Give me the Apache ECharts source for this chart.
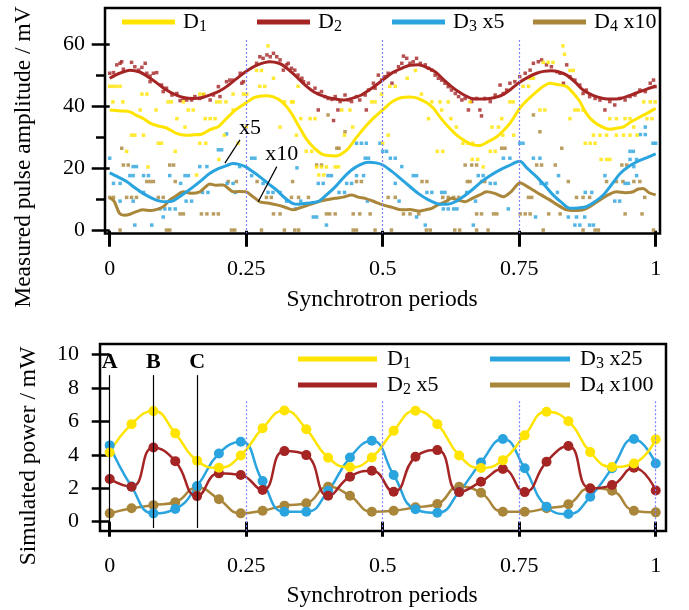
<!DOCTYPE html>
<html><head><meta charset="utf-8">
<script src="https://cdn.jsdelivr.net/npm/echarts@6/dist/echarts.min.js"></script>
<style>html,body{margin:0;padding:0;background:#fff}#c{width:689px;height:610px}</style>
</head><body><div id="c"></div>
<script>
// ---------- tick labels ----------
const periodTicks = [0, 0.25, 0.5, 0.75, 1];
const ampTicks = [0, 20, 40, 60];
const ampMinorTicks = [10, 30, 50];
const powTicks = [0, 2, 4, 6, 8, 10];

// ---------- simulated (bottom) ----------
const simT = [0,0.04,0.08,0.12,0.16,0.2,0.24,0.28,0.32,0.36,0.4,0.44,0.48,0.52,0.56,0.6,0.64,0.68,0.72,0.76,0.8,0.84,0.88,0.92,0.96,1];
const simD1 = [4.14,5.83,6.61,5.28,3.64,3.22,3.96,5.59,6.65,5.53,3.82,3.25,3.84,5.43,6.63,5.83,3.96,3.21,3.68,5.16,6.57,6.01,4.16,3.27,3.48,4.92];
const simD2x5 = [2.55,2.09,4.44,3.62,1.53,2.89,2.79,1.89,4.22,3.98,1.55,2.69,3.05,1.79,3.88,4.28,1.77,2.39,3.15,1.77,3.58,4.52,1.99,2.19,3.22,1.87];
const simD3x25 = [4.56,2.1,0.5,0.76,2.13,4.08,4.78,2.43,0.6,0.6,1.85,3.84,4.84,2.79,0.74,0.54,1.79,3.54,4.94,3.19,0.9,0.46,1.49,3.2,4.94,3.48];
const simD4x100 = [0.5,0.8,0.99,1.16,2.05,1.34,0.5,0.66,0.96,1.1,2.09,1.55,0.6,0.66,0.86,1.06,2.09,1.73,0.6,0.6,0.8,1.04,2.0,1.85,0.66,0.56];

// ---------- measured (top) smoothed curves ----------
const measD1 = [[0,38.8],[0.02,38.5],[0.037,38.2],[0.05,37.0],[0.061,36.1],[0.075,34.5],[0.086,33.8],[0.104,33.0],[0.122,31.3],[0.14,30.7],[0.153,30.8],[0.168,31.0],[0.183,32.4],[0.2,33.6],[0.214,36.1],[0.232,39.0],[0.249,41.0],[0.265,42.8],[0.285,43.4],[0.3,43.0],[0.315,41.5],[0.33,38.5],[0.345,34.0],[0.36,29.5],[0.375,26.5],[0.39,24.5],[0.413,24.0],[0.434,25.9],[0.45,29.5],[0.468,33.4],[0.485,36.5],[0.5,38.8],[0.518,41.5],[0.535,42.8],[0.55,43.0],[0.565,42.5],[0.59,39.9],[0.605,36.5],[0.62,33.4],[0.635,30.8],[0.651,28.8],[0.665,27.6],[0.678,27.4],[0.695,28.8],[0.709,30.2],[0.72,32.0],[0.733,34.5],[0.751,39.3],[0.765,42.0],[0.782,44.7],[0.795,46.5],[0.806,47.4],[0.82,47.0],[0.837,46.3],[0.85,44.0],[0.861,41.5],[0.87,38.5],[0.88,36.1],[0.895,34.0],[0.916,32.6],[0.93,33.0],[0.941,33.4],[0.955,35.0],[0.971,36.5],[0.985,37.8],[1.0,39.3]];
const measD2 = [[0,49.0],[0.018,50.6],[0.037,51.6],[0.055,51.0],[0.074,49.0],[0.09,47.0],[0.104,45.2],[0.12,43.7],[0.135,42.8],[0.153,42.5],[0.17,42.8],[0.183,43.6],[0.2,44.8],[0.214,46.3],[0.232,48.8],[0.249,51.1],[0.27,53.2],[0.293,54.3],[0.31,53.8],[0.321,52.7],[0.339,50.0],[0.358,46.8],[0.375,44.5],[0.394,43.1],[0.413,42.3],[0.428,42.0],[0.445,42.6],[0.461,43.6],[0.48,45.8],[0.5,48.4],[0.518,50.8],[0.535,52.2],[0.55,53.2],[0.565,53.3],[0.58,52.5],[0.596,51.1],[0.61,48.8],[0.626,46.3],[0.645,44.0],[0.663,42.5],[0.68,42.3],[0.696,42.5],[0.71,43.0],[0.721,43.8],[0.735,45.5],[0.75,47.6],[0.765,49.2],[0.782,50.6],[0.795,51.2],[0.809,51.4],[0.823,51.0],[0.837,50.0],[0.852,47.8],[0.867,45.2],[0.885,43.5],[0.904,42.5],[0.92,42.3],[0.935,42.5],[0.953,43.5],[0.971,44.7],[0.985,45.6],[1.0,46.5]];
const measD3x5 = [[0,18.6],[0.015,17.3],[0.031,15.8],[0.046,13.8],[0.061,12.0],[0.077,10.5],[0.092,9.5],[0.104,9.3],[0.116,9.6],[0.135,11.8],[0.153,14.1],[0.168,16.2],[0.183,18.4],[0.2,20.0],[0.215,21.0],[0.226,21.6],[0.237,21.3],[0.249,20.5],[0.262,19.0],[0.275,17.3],[0.29,15.2],[0.306,13.0],[0.321,10.5],[0.336,8.7],[0.346,8.5],[0.36,8.8],[0.382,9.4],[0.397,11.5],[0.413,14.1],[0.428,17.0],[0.443,19.5],[0.46,21.3],[0.474,22.0],[0.488,21.8],[0.5,21.1],[0.515,19.3],[0.529,17.3],[0.547,14.6],[0.565,12.0],[0.583,10.0],[0.602,8.6],[0.618,8.5],[0.633,9.3],[0.648,11.0],[0.663,13.0],[0.68,15.6],[0.695,17.5],[0.709,19.0],[0.73,20.8],[0.751,22.3],[0.765,20.0],[0.782,17.3],[0.797,14.5],[0.812,11.5],[0.828,9.0],[0.843,7.2],[0.858,7.3],[0.873,7.7],[0.89,9.5],[0.904,11.5],[0.92,15.0],[0.935,18.4],[0.952,20.8],[0.971,22.6],[0.985,23.6],[1.0,24.7]];
const measD4x10 = [[0,10.6],[0.008,9.5],[0.018,5.6],[0.027,5.0],[0.037,5.3],[0.05,6.2],[0.061,6.7],[0.075,6.5],[0.092,7.2],[0.1,8.0],[0.11,9.9],[0.12,11.0],[0.135,12.5],[0.15,12.0],[0.165,12.5],[0.175,14.0],[0.183,15.0],[0.195,14.6],[0.208,14.7],[0.218,13.5],[0.226,12.5],[0.237,12.6],[0.249,12.5],[0.262,11.0],[0.275,9.3],[0.29,8.9],[0.306,8.3],[0.32,7.6],[0.336,6.7],[0.346,7.2],[0.36,8.0],[0.382,9.3],[0.4,10.0],[0.413,10.4],[0.428,10.8],[0.443,11.5],[0.455,10.8],[0.468,10.4],[0.485,9.3],[0.5,8.3],[0.517,7.5],[0.535,6.7],[0.55,6.8],[0.565,6.3],[0.578,6.7],[0.59,7.2],[0.6,8.2],[0.608,8.8],[0.618,9.6],[0.626,10.4],[0.638,9.8],[0.651,9.3],[0.665,10.5],[0.678,11.5],[0.69,12.5],[0.705,12.0],[0.721,10.9],[0.735,12.5],[0.745,14.5],[0.751,15.4],[0.762,14.5],[0.776,13.0],[0.79,11.5],[0.806,9.9],[0.82,8.3],[0.837,6.7],[0.852,6.5],[0.867,6.7],[0.88,7.8],[0.898,9.9],[0.913,11.5],[0.928,12.5],[0.944,12.2],[0.959,12.5],[0.968,13.4],[0.977,13.6],[0.988,12.2],[1.0,11.5]];

// ---------- measured (top) raw samples ----------
const ptsD1 = [[0,46.4],[0.006,46.4],[0.012,46.4],[0.019,46.4],[0.006,41.4],[0.024,41.4],[0.059,43.9],[0.068,43.9],[0.056,38.8],[0.085,38.8],[0.04,30.7],[0.046,30.7],[0.062,30.7],[0.031,25.5],[0.089,28.1],[0.095,28.1],[0.107,41.4],[0.113,41.4],[0.135,41.4],[0.123,36.0],[0.138,33.3],[0.144,38.8],[0.153,38.8],[0.165,43.9],[0.172,43.9],[0.165,28.1],[0.176,28.1],[0.159,17.9],[0.175,36.0],[0.184,36.0],[0.193,36.0],[0.196,41.4],[0.202,41.4],[0.213,41.4],[0.226,43.9],[0.226,38.8],[0.245,43.9],[0.251,43.9],[0.269,51.5],[0.278,51.5],[0.275,46.4],[0.284,46.4],[0.29,59.4],[0.3,49.0],[0.312,33.3],[0.32,41.4],[0.333,41.4],[0.21,30.7],[0.12,25.5],[0.235,28.1],[0.25,33.3],[0.07,20.5],[0.2,22.9],
 [0.336,41.4],[0.345,46.4],[0.35,36.0],[0.367,36.0],[0.376,36.0],[0.342,30.7],[0.36,25.5],[0.37,25.5],[0.379,20.5],[0.388,20.5],[0.397,20.5],[0.413,20.5],[0.419,20.5],[0.383,17.9],[0.392,17.9],[0.425,38.8],[0.44,38.8],[0.43,30.7],[0.445,33.3],[0.48,41.4],[0.486,41.4],[0.498,43.9],[0.513,46.4],[0.523,46.4],[0.5,28.1],[0.51,30.7],[0.545,49.0],[0.56,51.5],[0.571,43.9],[0.584,36.0],[0.59,41.4],[0.605,41.4],[0.62,41.4],[0.608,38.8],[0.625,36.0],[0.635,33.3],[0.66,41.4],[0.647,28.1],[0.656,28.1],[0.665,28.1],[0.6,25.5],[0.61,25.5],[0.664,22.9],
 [0.83,59.4],[0.833,56.7],[0.794,54.1],[0.803,54.1],[0.812,54.1],[0.77,49.0],[0.776,49.0],[0.757,46.4],[0.767,46.4],[0.843,51.5],[0.849,51.5],[0.733,41.4],[0.739,41.4],[0.788,38.8],[0.797,38.8],[0.852,38.8],[0.858,38.8],[0.867,38.8],[0.916,36.0],[0.928,36.0],[0.944,36.0],[0.953,36.0],[0.978,41.4],[0.99,41.4],[0.999,41.4],[0.984,36.0],[0.993,36.0],[0.843,36.0],[0.7,33.3],[0.712,33.3],[0.718,36.0],[0.886,30.7],[0.898,30.7],[0.91,30.7],[0.928,30.7],[0.941,30.7],[0.953,30.7],[0.966,30.7],[0.871,28.1],[0.88,28.1],[0.889,28.1],[0.697,25.5],[0.706,25.5],[0.674,22.9],[0.684,20.5],[0.9,22.9],[0.91,22.9],[0.916,22.9],[0.72,30.7],[0.74,30.7],[0.96,33.3]];
const ptsD2 = [[0,50.6],[0.007,50.8],[0.013,53.3],[0.019,53.8],[0.022,54.3],[0.025,51.9],[0.04,54.1],[0.046,52.7],[0.053,51.6],[0.059,52.5],[0.065,53.8],[0.068,50.6],[0.074,49.7],[0.08,50.6],[0.086,50.8],[0.074,47.9],[0.095,46.8],[0.098,44.7],[0.104,45.8],[0.114,43.6],[0.123,44.1],[0.129,41.8],[0.135,42.5],[0.141,42.0],[0.15,42.0],[0.156,43.1],[0.165,42.5],[0.172,43.6],[0.184,42.0],[0.19,43.6],[0.199,46.3],[0.202,43.1],[0.214,47.9],[0.22,48.4],[0.226,48.4],[0.239,50.6],[0.242,47.4],[0.245,47.9],[0.269,53.8],[0.275,55.9],[0.281,55.4],[0.288,56.5],[0.294,55.9],[0.3,57.0],[0.306,55.9],[0.312,54.9],[0.318,51.6],[0.324,53.3],[0.333,52.2],
 [0.327,53.8],[0.339,51.6],[0.345,50.0],[0.352,49.0],[0.355,47.9],[0.364,47.4],[0.376,45.8],[0.382,44.1],[0.388,44.7],[0.394,43.1],[0.4,42.5],[0.407,42.2],[0.413,43.1],[0.422,41.5],[0.431,43.6],[0.437,42.0],[0.443,41.5],[0.452,43.1],[0.458,42.0],[0.468,43.6],[0.474,45.2],[0.483,47.4],[0.486,45.8],[0.492,50.0],[0.498,48.4],[0.504,49.5],[0.51,50.6],[0.517,47.4],[0.523,51.1],[0.529,52.7],[0.535,53.8],[0.538,56.1],[0.544,55.4],[0.55,53.8],[0.556,54.3],[0.562,55.4],[0.569,53.8],[0.578,53.3],[0.584,52.2],[0.59,51.6],[0.596,50.0],[0.602,49.0],[0.608,48.4],[0.614,47.4],[0.62,46.3],[0.626,45.2],[0.633,44.1],[0.639,43.1],[0.645,42.0],[0.651,42.5],[0.657,38.8],[0.663,41.5],[0.672,42.5],[0.382,38.8],[0.41,35.4],[0.418,38.8],[0.47,38.8],
 [0.678,38.8],[0.681,36.9],[0.687,42.5],[0.697,41.5],[0.706,43.6],[0.715,46.8],[0.721,44.1],[0.727,45.2],[0.733,47.4],[0.742,47.9],[0.751,49.5],[0.761,50.6],[0.77,51.6],[0.776,53.8],[0.785,54.3],[0.791,54.9],[0.8,53.3],[0.809,52.7],[0.819,51.1],[0.825,50.6],[0.831,47.4],[0.837,53.3],[0.843,49.5],[0.852,48.4],[0.861,46.8],[0.867,44.1],[0.873,45.2],[0.879,43.1],[0.889,42.5],[0.898,42.0],[0.907,38.8],[0.916,41.5],[0.925,40.4],[0.935,42.5],[0.944,42.0],[0.953,43.1],[0.962,43.6],[0.971,45.2],[0.981,44.7],[0.99,47.4],[0.996,48.4],[0.999,46.3]];
const ptsD3x5 = [[0,23.3],[0.007,15.2],[0.019,15.2],[0.043,20.6],[0.049,20.6],[0.037,17.7],[0.043,17.7],[0.062,17.7],[0.071,17.7],[0.11,17.7],[0.138,17.7],[0.144,17.7],[0.165,20.6],[0.178,20.6],[0.214,31.1],[0.199,26.0],[0.205,26.0],[0.238,20.6],[0.26,23.3],[0.266,23.3],[0.26,17.7],[0.29,12.3],[0.299,12.3],[0.312,12.3],[0.324,9.5],[0.281,15.2],[0.019,9.5],[0.043,9.5],[0.062,12.3],[0.092,7.0],[0.101,7.0],[0.11,7.0],[0.12,7.0],[0.098,4.4],[0.046,1.8],[0.077,1.8],[0.14,9.5],[0.15,9.5],[0.17,12.3],[0.18,12.3],[0.13,15.2],[0.215,15.2],[0.226,15.2],[0.23,12.3],
 [0.343,20.2],[0.373,4.4],[0.379,4.4],[0.397,1.8],[0.34,7.0],[0.4,17.7],[0.406,17.7],[0.382,15.2],[0.391,15.2],[0.434,15.2],[0.443,15.2],[0.452,17.7],[0.465,17.7],[0.452,28.1],[0.461,28.1],[0.47,28.1],[0.495,28.1],[0.468,23.3],[0.474,23.3],[0.5,25.5],[0.507,25.5],[0.514,23.3],[0.523,23.3],[0.535,20.6],[0.556,17.7],[0.562,17.7],[0.523,15.2],[0.581,12.3],[0.59,12.3],[0.608,12.3],[0.614,12.3],[0.611,7.0],[0.62,7.0],[0.63,7.0],[0.636,7.0],[0.562,4.4],[0.578,1.8],[0.654,12.3],[0.472,9.5],[0.53,9.5],[0.42,12.3],[0.43,12.3],[0.35,9.5],
 [0.666,1.8],[0.675,17.7],[0.684,17.7],[0.697,15.2],[0.706,15.2],[0.721,23.3],[0.733,23.3],[0.751,28.1],[0.757,28.1],[0.776,23.3],[0.788,23.3],[0.822,17.7],[0.79,15.2],[0.8,15.2],[0.78,4.4],[0.84,4.4],[0.855,4.4],[0.87,4.4],[0.852,1.8],[0.861,1.8],[0.879,1.8],[0.886,1.8],[0.871,12.3],[0.883,12.3],[0.907,17.7],[0.925,9.5],[0.934,9.5],[0.944,15.2],[0.95,15.2],[0.965,17.7],[0.981,33.3],[0.972,30.9],[0.981,30.9],[0.995,28.1],[1.0,28.1],[0.953,25.5],[0.959,25.5],[0.953,22.9],[0.965,22.9],[0.67,9.5],[0.73,7.0],[0.82,12.3],[0.96,20.6]];
const ptsD4x10 = [[0.019,0.2],[0.104,0.2],[0.11,0.2],[0.223,0.2],[0.229,0.2],[0.278,0.2],[0,10.7],[0.007,10.7],[0.031,10.7],[0.04,10.7],[0.049,10.7],[0.089,10.7],[0.098,10.7],[0.129,5.4],[0.135,5.4],[0.168,5.4],[0.178,5.4],[0.19,5.4],[0.199,5.4],[0.3,5.4],[0.312,5.4],[0.068,15.8],[0.074,15.8],[0.08,15.8],[0.12,15.8],[0.217,15.8],[0.232,15.8],[0.11,21.1],[0.117,21.1],[0.025,21.1],[0.034,21.1],[0.022,26.5],[0.287,10.7],[0.296,10.7],[0.27,15.8],[0.32,0.2],
 [0.339,0.2],[0.346,0.2],[0.446,0.2],[0.452,0.2],[0.486,0.2],[0.516,0.2],[0.58,0.2],[0.587,0.2],[0.632,0.2],[0.641,0.2],[0.672,0.2],[0.333,10.7],[0.346,10.7],[0.364,10.7],[0.397,5.4],[0.403,5.4],[0.413,5.4],[0.446,5.4],[0.458,5.4],[0.477,5.4],[0.538,5.4],[0.55,5.4],[0.566,5.4],[0.61,10.7],[0.62,10.7],[0.63,10.7],[0.639,10.7],[0.51,10.7],[0.523,10.7],[0.452,15.8],[0.461,15.8],[0.572,15.8],[0.581,15.8],[0.655,15.8],[0.335,15.8],[0.379,21.1],[0.388,21.1],[0.651,21.1],[0.663,21.1],[0.431,31.8],[0.4,37.2],[0.416,26.5],[0.42,26.5],
 [0.693,0.2],[0.794,0.2],[0.867,0.2],[0.889,0.2],[0.895,0.2],[0.996,0.2],[0.672,5.4],[0.681,5.4],[0.703,5.4],[0.709,5.4],[0.752,5.4],[0.761,5.4],[0.77,5.4],[0.804,5.4],[0.825,5.4],[0.944,5.4],[0.975,5.4],[0.767,10.7],[0.773,10.7],[0.855,10.7],[0.867,10.7],[0.879,10.7],[0.98,10.7],[0.66,15.8],[0.681,15.8],[0.687,15.8],[0.84,15.8],[0.91,15.8],[0.928,15.8],[0.94,15.8],[0.96,15.8],[0.971,15.8],[0.672,21.1],[0.782,21.1],[0.791,21.1],[0.816,21.1],[0.938,21.1],[0.947,21.1],[0.718,26.5],[0.724,26.5],[0.828,26.5],[0.776,37.2],[0.788,31.8]];

// ---------- annotations ----------
const topGuides = [0.25, 0.5, 0.75];
const bottomGuides = [0.25, 0.5, 0.75, 1];
const markerNames = ['A', 'B', 'C'];
const markerT = [0, 0.08, 0.16];

const C = {d1:'#FFE400', d2:'#A52424', d3:'#2AA4DF', d4:'#A9863A', guide:'#8282FF'};
const serif = 'Liberation Serif';
const LBL = {tD1:'{n|D}{s|1}', tD2:'{n|D}{s|2}', tD3:'{n|D}{s|3}{n| x5}', tD4:'{n|D}{s|4}{n| x10}',
             bD1:'{n|D}{s|1}', bD2:'{n|D}{s|2}{n| x5}', bD3:'{n|D}{s|3}{n| x25}', bD4:'{n|D}{s|4}{n| x100}'};

const chart = echarts.init(document.getElementById('c'), null, {renderer:'canvas', width:689, height:610});

function legend(name, left, top, w, pad) {
  return {data:[name], left:left, top:top, padding:0, itemWidth:w, itemHeight:5, icon:'rect', selectedMode:false,
    itemStyle:{borderWidth:0},
    formatter: n => LBL[n],
    textStyle:{color:'#000', fontFamily:serif, padding:[0,0,0,pad],
      rich:{n:{fontSize:22, fontFamily:serif, color:'#000', lineHeight:26},
            s:{fontSize:16, fontFamily:serif, color:'#000', lineHeight:16, verticalAlign:'bottom'}}}};
}
function scatter(name, data, color) {
  return {name:name, type:'scatter', xAxisIndex:0, yAxisIndex:0, data:data, symbol:'rect', symbolSize:[3.5,3.5],
    itemStyle:{color:color}, silent:true};
}
function mline(name, data, color) {
  return {name:name, type:'line', xAxisIndex:0, yAxisIndex:0, data:data, showSymbol:false, smooth:0.3,
    lineStyle:{color:color, width:3}, itemStyle:{color:color}, silent:true};
}
function sline(name, vals, color) {
  return {name:name, type:'line', xAxisIndex:1, yAxisIndex:2, data:simT.map((t,i)=>[t, vals[i]]),
    symbol:'circle', symbolSize:10, showSymbol:true, smooth:0.5,
    lineStyle:{color:color, width:2.5}, itemStyle:{color:color, borderWidth:0}, silent:true};
}
const lblStyle = {show:true, position:'inside', formatter:'{b}', color:'#000', fontFamily:serif, fontSize:22};

const option = {
  animation:false,
  backgroundColor:'#fff',
  grid:[
    {left:105, top:8, width:555, height:225.5, show:true, borderColor:'#000', borderWidth:2.5, backgroundColor:'transparent'},
    {left:100, top:344, width:566, height:187, show:true, borderColor:'#000', borderWidth:2.5, backgroundColor:'transparent'}
  ],
  xAxis:[
    {gridIndex:0, type:'value', min:-0.0086, max:1.0079, offset:3, axisLine:{show:false}, splitLine:{show:false},
     axisTick:{show:true, length:16, customValues:periodTicks, lineStyle:{color:'#000', width:3}},
     axisLabel:{customValues:periodTicks, margin:22, fontSize:22, fontFamily:serif, color:'#000', formatter:v=>String(v)}},
    {gridIndex:1, type:'value', min:-0.0178, max:1.0188, offset:2, axisLine:{show:false}, splitLine:{show:false},
     axisTick:{show:true, length:15, customValues:periodTicks, lineStyle:{color:'#000', width:3}},
     axisLabel:{customValues:periodTicks, margin:22, fontSize:22, fontFamily:serif, color:'#000', formatter:v=>String(v)}}
  ],
  yAxis:[
    {gridIndex:0, type:'value', position:'left', min:-0.9, max:71.57, axisLine:{show:false}, splitLine:{show:false},
     axisTick:{show:true, length:18, customValues:ampTicks, lineStyle:{color:'#000', width:2.5}},
     axisLabel:{customValues:ampTicks, margin:20, fontSize:22, fontFamily:serif, color:'#000', formatter:v=>String(v)}},
    {gridIndex:0, type:'value', position:'left', min:-0.9, max:71.57, axisLine:{show:false}, splitLine:{show:false},
     axisTick:{show:true, length:9, customValues:ampMinorTicks, lineStyle:{color:'#000', width:2.5}},
     axisLabel:{show:false}},
    {gridIndex:1, type:'value', position:'left', min:-0.555, max:10.62, axisLine:{show:false}, splitLine:{show:false},
     axisTick:{show:true, length:18, customValues:powTicks, lineStyle:{color:'#000', width:2.5}},
     axisLabel:{customValues:powTicks, margin:21, fontSize:22, fontFamily:serif, color:'#000', formatter:v=>String(v)}}
  ],
  legend:[
    legend('tD1', 122, 11, 53, 3), legend('tD2', 257, 11, 53, 3),
    legend('tD3', 392, 11, 53, 3), legend('tD4', 533, 11, 53, 3),
    legend('bD1', 298, 348, 79, 5), legend('bD2', 298, 374, 79, 5),
    legend('bD3', 490, 348, 80, 5), legend('bD4', 490, 374, 80, 5)
  ],
  graphic:[
    {type:'text', x:24, y:157, rotation:Math.PI/2, style:{text:'Measured pulse amplitude / mV', fontSize:23.5, fontFamily:serif, fill:'#000', align:'center', verticalAlign:'middle'}},
    {type:'text', x:29, y:456, rotation:Math.PI/2, style:{text:'Simulated power / mW', fontSize:23.5, fontFamily:serif, fill:'#000', align:'center', verticalAlign:'middle'}},
    {type:'text', x:382, y:300, style:{text:'Synchrotron periods', fontSize:23.5, fontFamily:serif, fill:'#000', align:'center', verticalAlign:'middle'}},
    {type:'text', x:382, y:596, style:{text:'Synchrotron periods', fontSize:23.5, fontFamily:serif, fill:'#000', align:'center', verticalAlign:'middle'}}
  ],
  series:[
    // top guides & annotations
    {type:'line', xAxisIndex:0, yAxisIndex:0, data:[], silent:true,
     markLine:{symbol:['none','none'], silent:true, animation:false, label:{show:false},
       lineStyle:{color:C.guide, width:1.2, type:[2,2]},
       data: topGuides.map(x => [{coord:[x, 61.3]}, {coord:[x, -0.85]}])}},
    {type:'line', xAxisIndex:0, yAxisIndex:0, data:[], silent:true, z:5,
     markLine:{symbol:['none','none'], silent:true, animation:false, label:{show:false},
       lineStyle:{color:'#000', width:1.2, type:'solid'},
       data:[[{coord:[0.211,21.7]},{coord:[0.2386,29.2]}], [{coord:[0.272,9.3]},{coord:[0.306,20.6]}]]},
     markPoint:{symbol:'rect', symbolSize:1, itemStyle:{color:'rgba(0,0,0,0)'}, label:lblStyle, silent:true,
       data:[{name:'x5', coord:[0.257,33.0]}, {name:'x10', coord:[0.315,24.6]}]}},
    scatter('pD4', ptsD4x10, C.d4), scatter('pD3', ptsD3x5, C.d3), scatter('pD2', ptsD2, C.d2), scatter('pD1', ptsD1, C.d1),
    mline('tD4', measD4x10, C.d4), mline('tD3', measD3x5, C.d3), mline('tD2', measD2, C.d2), mline('tD1', measD1, C.d1),
    // bottom guides & markers
    {type:'line', xAxisIndex:1, yAxisIndex:2, data:[], silent:true,
     markLine:{symbol:['none','none'], silent:true, animation:false, label:{show:false},
       lineStyle:{color:C.guide, width:1.2, type:[2,2]},
       data: bottomGuides.map(x => [{coord:[x, 7.2]}, {coord:[x, -0.55]}])}},
    {type:'line', xAxisIndex:1, yAxisIndex:2, data:[], silent:true,
     markLine:{symbol:['none','none'], silent:true, animation:false, label:{show:false},
       lineStyle:{color:'#000', width:1.2, type:'solid'},
       data: markerT.map(x => [{coord:[x, 8.76]}, {coord:[x, -0.38]}])},
     markPoint:{symbol:'rect', symbolSize:1, itemStyle:{color:'rgba(0,0,0,0)'}, silent:true,
       label:Object.assign({}, lblStyle, {fontWeight:'bold'}),
       data: markerT.map((x,i) => ({name:markerNames[i], coord:[x, 9.53]}))}},
    sline('bD4', simD4x100, C.d4), sline('bD3', simD3x25, C.d3), sline('bD2', simD2x5, C.d2), sline('bD1', simD1, C.d1)
  ]
};
chart.setOption(option);
</script>
</body></html>
